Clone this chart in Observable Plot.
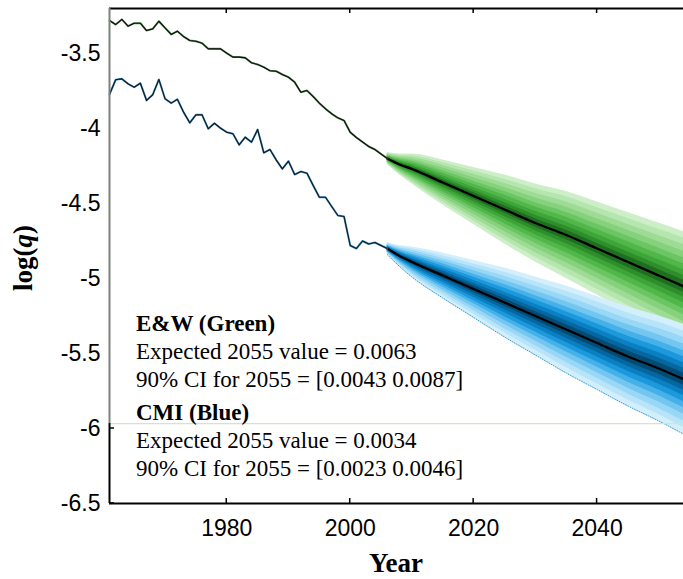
<!DOCTYPE html>
<html>
<head>
<meta charset="utf-8">
<script src="https://cdn.jsdelivr.net/npm/d3@7"></script>
<script src="https://cdn.jsdelivr.net/npm/@observablehq/plot@0.6"></script>
<style>
  body { margin: 0; background: #fff; }
  #chart svg { display: block; overflow: hidden; }
</style>
</head>
<body>
<div id="chart"></div>
<script>
// Observed mortality index, log(q), by calendar year
const histYears = d3.range(1961, 2007);
const ewHist = [
  -3.280, -3.307, -3.273, -3.318, -3.298, -3.298, -3.347, -3.336, -3.285, -3.329,
  -3.373, -3.351, -3.387, -3.413, -3.418, -3.431, -3.469, -3.469, -3.469, -3.498,
  -3.524, -3.524, -3.529, -3.562, -3.573, -3.591, -3.615, -3.618, -3.640, -3.658,
  -3.691, -3.758, -3.747, -3.787, -3.831, -3.869, -3.902, -3.929, -3.947, -4.025,
  -4.060, -4.090, -4.120, -4.140, -4.170, -4.200
];
const cmiHist = [
  -3.773, -3.675, -3.669, -3.702, -3.725, -3.698, -3.813, -3.775, -3.673, -3.802,
  -3.831, -3.805, -3.891, -3.962, -3.909, -3.909, -4.002, -3.965, -3.998, -4.025,
  -4.035, -4.109, -4.058, -4.091, -4.007, -4.162, -4.140, -4.209, -4.269, -4.218,
  -4.307, -4.287, -4.298, -4.380, -4.458, -4.458, -4.520, -4.580, -4.587, -4.780,
  -4.800, -4.750, -4.770, -4.760, -4.780, -4.800
];

// Projected median and outer fan half-width
const fanYears = [2006, 2008, 2010, 2015, 2020, 2025, 2030, 2035, 2040, 2045, 2050, 2055];
const ewCenter  = [-4.20, -4.24, -4.27, -4.36, -4.45, -4.54, -4.63, -4.71, -4.80, -4.89, -4.98, -5.07];
const cmiCenter = [-4.80, -4.85, -4.89, -4.98, -5.07, -5.16, -5.25, -5.34, -5.43, -5.52, -5.60, -5.69];
const fanHalfWidth = [0.04, 0.07, 0.10, 0.15, 0.19, 0.23, 0.26, 0.29, 0.31, 0.33, 0.35, 0.37];

// Fan band levels (share of the outer half-width), outermost first
const bandLevels = [1.0, 0.88, 0.76, 0.64, 0.52, 0.41, 0.30, 0.20, 0.11];
const ewShades  = ["#cdefc7", "#b6e6af", "#9edc96", "#85d17c", "#6bc563", "#52b74b", "#3ea638", "#2e8e2b", "#1f6f1f"];
const cmiShades = ["#d4effc", "#b8e4fa", "#98d7f6", "#72c6f0", "#45b1e8", "#1c98dc", "#0a7fc2", "#05679f", "#034a75"];

const xTicks = [1980, 2000, 2020, 2040];
const yTicks = [-6.5, -6, -5.5, -5, -4.5, -4, -3.5];

const ewTitle = "E&W (Green)";
const ewLines = ["Expected 2055 value = 0.0063", "90% CI for 2055 = [0.0043 0.0087]"];
const cmiTitle = "CMI (Blue)";
const cmiLines = ["Expected 2055 value = 0.0034", "90% CI for 2055 = [0.0023 0.0046]"];

// ---- build tables ----
const histEW = histYears.map((year, i) => ({year, v: ewHist[i]}));
const histCMI = histYears.map((year, i) => ({year, v: cmiHist[i]}));
const center = (arr) => fanYears.map((year, i) => ({year, v: arr[i]}));
const band = (arr, level) => fanYears.map((year, i) => ({
  year, lo: arr[i] - level * fanHalfWidth[i], hi: arr[i] + level * fanHalfWidth[i]
}));

const boxTop = -5.967;   // top border of the summary box
const yMin = -6.5, yMax = -3.2;
const xMin = 1961, xMax = 2054;

const fanMarks = (arr, shades) => bandLevels.map((lv, k) =>
  Plot.areaY(band(arr, lv), {x: "year", y1: "lo", y2: "hi", fill: shades[k], curve: "monotone-x", clip: true})
);

const plot = Plot.plot({
  width: 683,
  height: 579,
  marginTop: 8,
  marginBottom: 76,
  marginLeft: 109,
  marginRight: 0,
  style: {fontFamily: "'Liberation Sans', Arial, sans-serif", fontSize: "23px", background: "#fff", color: "#000"},
  x: {domain: [xMin, xMax]},
  y: {domain: [yMin, yMax]},
  marks: [
    ...fanMarks(ewCenter, ewShades),
    Plot.line(center(ewCenter), {x: "year", y: "v", stroke: "#000", strokeWidth: 2.4, curve: "monotone-x", clip: true}),
    ...fanMarks(cmiCenter, cmiShades),
    Plot.line(band(cmiCenter, 1.0), {x: "year", y: "lo", stroke: "#2d9bdc", strokeWidth: 1, strokeDasharray: "1,1.5", curve: "monotone-x", clip: true}),
    Plot.line(center(cmiCenter), {x: "year", y: "v", stroke: "#000", strokeWidth: 2.4, curve: "monotone-x", clip: true}),
    // observed series: coloured halo under a dark core
    Plot.line(histEW, {x: "year", y: "v", stroke: "#5a8f5a", strokeWidth: 2}),
    Plot.line(histEW, {x: "year", y: "v", stroke: "#0c0c0c", strokeWidth: 1.1}),
    Plot.line(histCMI, {x: "year", y: "v", stroke: "#4a90bf", strokeWidth: 2}),
    Plot.line(histCMI, {x: "year", y: "v", stroke: "#0b1a24", strokeWidth: 1.1}),
    // summary box border and frame
    Plot.ruleY([boxTop], {stroke: "#cde8c6", strokeWidth: 1.2}),
    Plot.ruleY([yMax], {stroke: "#000", strokeWidth: 2}),
    Plot.ruleY([yMin], {stroke: "#000", strokeWidth: 2}),
    Plot.ruleX([xMin], {y1: boxTop, y2: yMax, stroke: "#7d827d", strokeWidth: 2}),
    Plot.ruleX([xMin], {y1: yMin, y2: boxTop, stroke: "#000", strokeWidth: 2}),
    Plot.axisX(xTicks, {tickSize: 0, tickPadding: 16, tickFormat: d => String(d), label: null, fontSize: 23}),
    Plot.axisY(yTicks, {tickSize: 0, tickPadding: 9, tickFormat: d => String(d), label: null, fontSize: 23})
  ]
});

const svg = d3.select(plot);
const sx = plot.scale("x"), sy = plot.scale("y");
const X = v => sx.apply(v), Y = v => sy.apply(v);

// inward tick marks on the top and bottom edges, and on the left edge inside the box
const ticks = svg.append("g").attr("stroke", "#000").attr("stroke-width", 1.5);
for (const t of xTicks) {
  ticks.append("line").attr("x1", X(t)).attr("x2", X(t)).attr("y1", Y(yMax)).attr("y2", Y(yMax) + 5);
  ticks.append("line").attr("x1", X(t)).attr("x2", X(t)).attr("y1", Y(yMin)).attr("y2", Y(yMin) - 5);
}
for (const t of yTicks.filter(t => t < boxTop)) {
  ticks.append("line").attr("x1", X(xMin)).attr("x2", X(xMin) + 5).attr("y1", Y(t)).attr("y2", Y(t));
}

// summary text
const serif = "'Liberation Serif', 'Times New Roman', serif";
const txt = svg.append("g")
  .attr("font-family", serif).attr("font-size", 23).attr("fill", "#000").attr("text-anchor", "start");
const left = 136;
txt.append("text").attr("x", left).attr("y", 331).attr("font-weight", "bold").text(ewTitle);
ewLines.forEach((s, i) => txt.append("text").attr("x", left).attr("y", 359 + 27.5 * i).text(s));
txt.append("text").attr("x", left).attr("y", 420).attr("font-weight", "bold").text(cmiTitle);
cmiLines.forEach((s, i) => txt.append("text").attr("x", left).attr("y", 448 + 27.5 * i).text(s));

// axis titles
svg.append("text")
  .attr("x", (X(xMin) + X(xMax)) / 2).attr("y", 572)
  .attr("text-anchor", "middle").attr("font-family", serif).attr("font-weight", "bold").attr("font-size", 27)
  .text("Year");
const yl = svg.append("text")
  .attr("transform", "translate(32,258) rotate(-90)")
  .attr("text-anchor", "middle").attr("font-family", serif).attr("font-weight", "bold").attr("font-size", 27);
yl.append("tspan").text("log(");
yl.append("tspan").attr("font-style", "italic").text("q");
yl.append("tspan").text(")");

document.getElementById("chart").append(plot);
</script>
</body>
</html>
